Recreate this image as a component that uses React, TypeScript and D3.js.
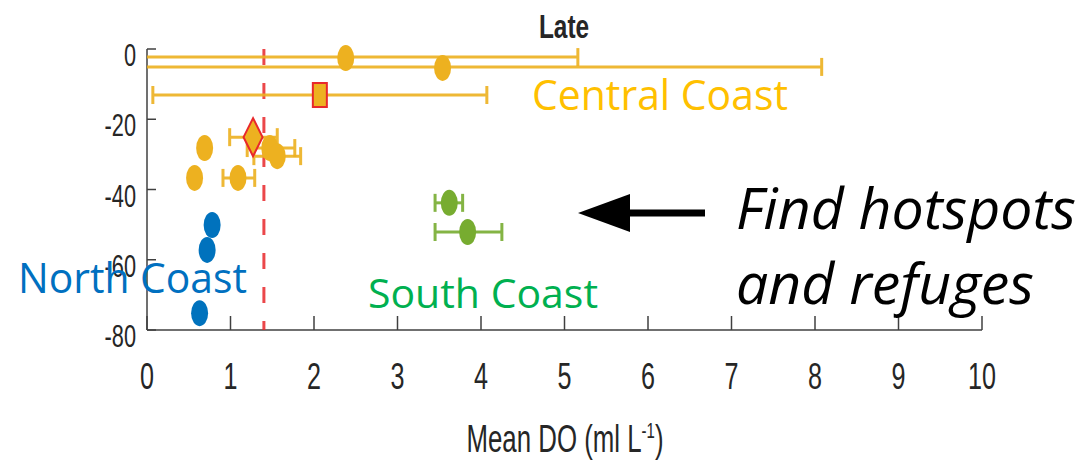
import React from "react";
import * as d3 from "d3";

// ---------- data ----------
const xTicks = [0, 1, 2, 3, 4, 5, 6, 7, 8, 9, 10];
const yTicks = [0, -20, -40, -60, -80];

// Central Coast: mean DO, depth, error bar low/high, marker type
const centralX = [2.38, 3.54, 2.07, 1.27, 1.47, 1.56, 0.69, 0.57, 1.09];
const centralY = [-2.3, -5.1, -13.1, -25.1, -28.2, -30.5, -28.2, -36.7, -36.7];
const centralLo = [-0.4, -1.0, 0.07, 0.99, 1.2, 1.28, null, null, 0.91];
const centralHi = [5.16, 8.08, 4.07, 1.56, 1.77, 1.84, null, null, 1.29];
const centralMarker = ["o", "o", "s", "d", "o", "o", "o", "o", "o"];

const northX = [0.78, 0.72, 0.63];
const northY = [-50.1, -57.2, -75.2];

const southX = [3.62, 3.84];
const southY = [-43.8, -52.1];
const southLo = [3.45, 3.45];
const southHi = [3.78, 4.25];

const thresholdDO = 1.4;

const title = "Late";
const xLabel = "Mean DO (ml L";
const regionCentral = "Central Coast";
const regionNorth = "North Coast";
const regionSouth = "South Coast";
const note1 = "Find hotspots";
const note2 = "and refuges";

// ---------- styles ----------
const C_ORANGE = "#EDB120";
const C_BLUE = "#0072BD";
const C_GREEN = "#77AC30";
const C_RED = "#E8282B";
const MFONT = "'Liberation Sans', Arial, Helvetica, sans-serif";
const CFONT = "'Open Sans', 'Noto Sans', sans-serif";
const SX = 0.68;

export default function App() {
  const W = 1089, H = 464;
  const x = d3.scaleLinear().domain([0, 10]).range([147, 982]);
  const y = d3.scaleLinear().domain([-80, 0]).range([330, 49]);
  const xc = (v: number) => x(Math.max(0, Math.min(10, v)));

  const rx = 8.5, ry = 13;
  const cap = 9;

  const errBar = (lo: number | null, hi: number | null, yy: number, color: string, key: string) => {
    if (lo == null || hi == null) return null;
    const yp = y(yy);
    return (
      <g key={key} stroke={color} strokeWidth={3} opacity={0.9}>
        <line x1={xc(lo)} x2={xc(hi)} y1={yp} y2={yp} />
        {lo >= 0 && <line x1={x(lo)} x2={x(lo)} y1={yp - cap} y2={yp + cap} />}
        {hi <= 10 && <line x1={x(hi)} x2={x(hi)} y1={yp - cap} y2={yp + cap} />}
      </g>
    );
  };

  const marker = (m: string, cx: number, cy: number, color: string, key: string) => {
    if (m === "s") {
      return <rect key={key} x={cx - 7} y={cy - 12} width={14} height={24} fill={color} stroke={C_RED} strokeWidth={2} />;
    }
    if (m === "d") {
      return (
        <path key={key} d={`M${cx},${cy - 19} L${cx + 9.5},${cy} L${cx},${cy + 19} L${cx - 9.5},${cy} Z`}
          fill={color} stroke={C_RED} strokeWidth={2} />
      );
    }
    return <ellipse key={key} cx={cx} cy={cy} rx={rx} ry={ry} fill={color} />;
  };

  const mtext = (s: React.ReactNode, tx: number, ty: number, size: number, anchor: string, key: string, weight = "normal", sx = SX) => (
    <g key={key} transform={`translate(${tx},${ty}) scale(${sx},1)`}>
      <text x={0} y={0} fontFamily={MFONT} fontSize={size} fontWeight={weight} textAnchor={anchor} fill="#262626">{s}</text>
    </g>
  );

  return (
    <svg width={W} height={H} style={{ position: "absolute", left: 0, top: 0, background: "#fff" }}>
      <rect x={0} y={0} width={W} height={H} fill="#fff" />

      {/* axes */}
      <g stroke="#404040" strokeWidth={1.5} fill="none">
        <line x1={x(0)} x2={x(10)} y1={y(-80)} y2={y(-80)} />
        <line x1={x(0)} x2={x(0)} y1={y(-80)} y2={y(0)} />
        {xTicks.map((t) => (
          <line key={"xt" + t} x1={x(t)} x2={x(t)} y1={y(-80)} y2={y(-80) - 14} />
        ))}
        {yTicks.map((t) => (
          <line key={"yt" + t} x1={x(0)} x2={x(0) + 9} y1={y(t)} y2={y(t)} />
        ))}
      </g>

      {/* tick labels */}
      {xTicks.map((t) => mtext(String(t), x(t), 389, 37, "middle", "xl" + t))}
      {yTicks.map((t) => mtext(String(t), 136, y(t) + 17, 32, "end", "yl" + t))}

      {/* axis label */}
      {mtext(
        <>
          {xLabel}
          <tspan fontSize={22} dy={-14}>-1</tspan>
          <tspan dy={14}>)</tspan>
        </>,
        565, 452, 38, "middle", "xlab"
      )}

      {/* title */}
      {mtext(title, 564, 38, 33, "middle", "title", "bold", 0.74)}

      {/* threshold line */}
      <line x1={x(thresholdDO)} x2={x(thresholdDO)} y1={y(0)} y2={y(-80)}
        stroke={C_RED} strokeWidth={3} strokeDasharray="16 18" opacity={0.85} />

      {/* error bars */}
      {centralX.map((_, i) => errBar(centralLo[i], centralHi[i], centralY[i], C_ORANGE, "ce" + i))}
      {southX.map((_, i) => errBar(southLo[i], southHi[i], southY[i], C_GREEN, "se" + i))}

      {/* markers */}
      {centralX.map((v, i) => marker(centralMarker[i], x(v), y(centralY[i]) + (i < 2 ? 1 : 0), C_ORANGE, "cm" + i))}
      {northX.map((v, i) => marker("o", x(v), y(northY[i]), C_BLUE, "nm" + i))}
      {southX.map((v, i) => marker("o", x(v), y(southY[i]), C_GREEN, "sm" + i))}

      {/* region labels */}
      <text x={532} y={110} fontFamily={CFONT} fontSize={42} fill="#FFC000" textLength={256} lengthAdjust="spacingAndGlyphs">{regionCentral}</text>
      <text x={18} y={293} fontFamily={CFONT} fontSize={42} fill="#0070C0" textLength={229} lengthAdjust="spacingAndGlyphs">{regionNorth}</text>
      <text x={368} y={308} fontFamily={CFONT} fontSize={40} fill="#00B050" textLength={230} lengthAdjust="spacingAndGlyphs">{regionSouth}</text>

      {/* annotation */}
      <line x1={625} x2={705} y1={213} y2={213} stroke="#000" strokeWidth={7} />
      <path d="M578,213 L630,194 L630,232 Z" fill="#000" />
      <text x={736} y={229} fontFamily={CFONT} fontStyle="italic" fontSize={56} fill="#000" textLength={340} lengthAdjust="spacingAndGlyphs">{note1}</text>
      <text x={736} y={304} fontFamily={CFONT} fontStyle="italic" fontSize={56} fill="#000" textLength={298} lengthAdjust="spacingAndGlyphs">{note2}</text>
    </svg>
  );
}
